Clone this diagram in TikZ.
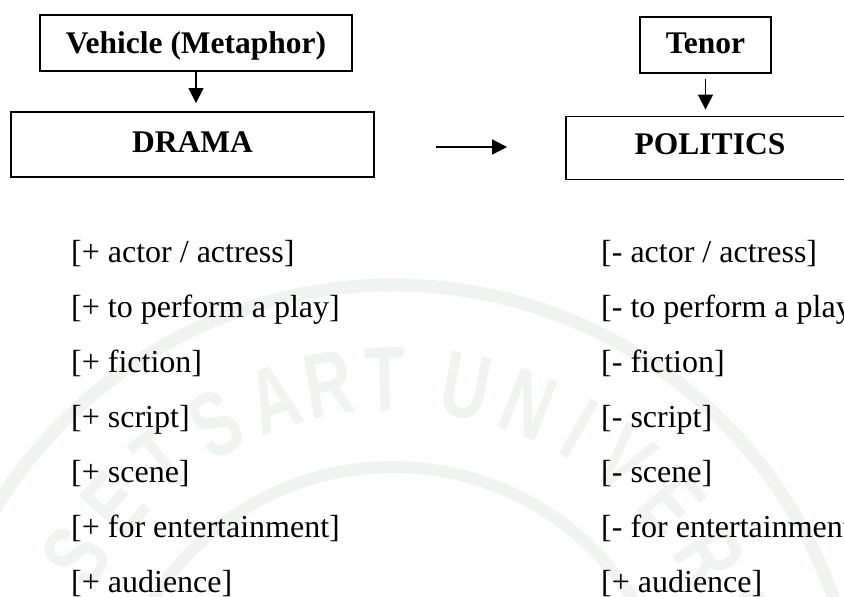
\documentclass[tikz,border=0pt]{standalone}
\usepackage{fontspec}
\setmainfont{Liberation Serif}
\newfontfamily\sealfont{Liberation Sans}
\usetikzlibrary{arrows.meta}
\definecolor{sealgreen}{RGB}{239,244,240}
\begin{document}
\begin{tikzpicture}[x=1pt,y=1pt,
  box/.style={draw, line width=1.8pt, inner sep=0pt, text depth=0pt,
    font=\bfseries\fontsize{31.5}{36}\selectfont},
  item/.style={anchor=base west, inner sep=0pt, font=\fontsize{32}{38}\selectfont},
  arr/.style={line width=1.5pt, -{Triangle[length=15pt,width=15pt]}},
  seal/.style={text=sealgreen, inner sep=0pt,
    font=\sealfont\bfseries\fontsize{92}{96}\selectfont}]
\useasboundingbox (0,0) rectangle (844,597);
\clip (0,0) rectangle (844,597);

% pale university seal in the background
\coordinate (sc) at (393,-154);
\draw[sealgreen, line width=13pt] (sc) circle[radius=466];
\draw[sealgreen, line width=12pt] (sc) circle[radius=284];
\foreach \l/\a in {K/-78.4, A/-68.4, S/-58.4, E/-48.4, T/-38.4, S/-28.4, A/-18.6,
    R/-9.9, T/-1.2, U/11.4, N/21.4, I/30, V/38.5, E/48.5, R/58.5, S/68.5, I/77,
    T/85.5, Y/95.5}
  \node[seal, rotate=-\a, xscale=0.72] at ([shift={({90-\a}:372)}]sc) {\l};

% boxes
\node[box, minimum width=312pt, minimum height=56pt, text height=22pt] (veh) at (196,554) {Vehicle (Metaphor)};
\node[box, minimum width=363pt, minimum height=65pt, text height=17pt] (drama) at (192.5,452.5) {DRAMA};
\node[box, minimum width=131pt, minimum height=56pt, text height=18pt] (tenor) at (705.5,552) {Tenor};
\node[box, minimum width=288pt, minimum height=63pt, text height=13pt] (pol) at (710,449) {POLITICS};

% connectors
\draw[arr, shorten >=8pt] (veh.south) -- (veh.south |- drama.north);
\draw[arr, shorten <=5pt, shorten >=6pt] (tenor.south) -- (tenor.south |- pol.north);
\draw[arr, shorten <=61pt, shorten >=58pt] ([yshift=-2.5pt]drama.east) -- ([yshift=-2.5pt]drama.east -| pol.west);

% feature lists
\node[item] (d1) at (71,334) {[+ actor / actress]};
\node[item] (d2) at (71,279) {[+ to perform a play]};
\node[item] (d3) at (71,224) {[+ fiction]};
\node[item] (d4) at (71,169) {[+ script]};
\node[item] (d5) at (71,114) {[+ scene]};
\node[item] (d6) at (71,59) {[+ for entertainment]};
\node[item] (d7) at (71,4) {[+ audience]};

\node[item] (p1) at (601,334) {[- actor / actress]};
\node[item] (p2) at (601,279) {[- to perform a play]};
\node[item] (p3) at (601,224) {[- fiction]};
\node[item] (p4) at (601,169) {[- script]};
\node[item] (p5) at (601,114) {[- scene]};
\node[item] (p6) at (601,59) {[- for entertainment]};
\node[item] (p7) at (601,4) {[+ audience]};
\end{tikzpicture}
\end{document}
